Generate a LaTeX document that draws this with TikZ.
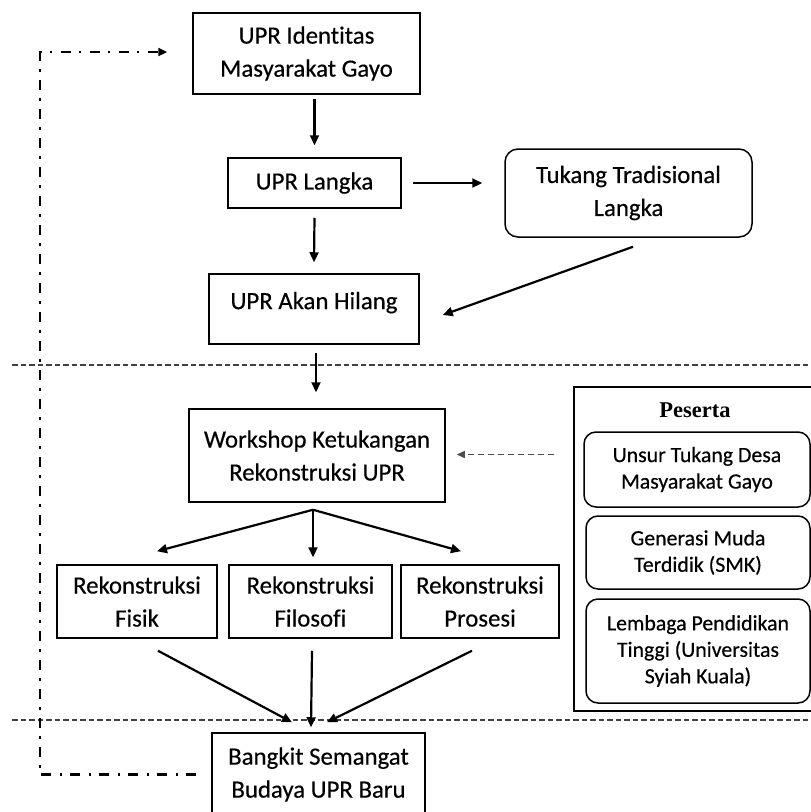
\documentclass[tikz,border=0pt]{standalone}
\usepackage{fontspec}
\newfontfamily\mainf{Carlito}[Ligatures=NoCommon,FakeBold=0.4]
\newfontfamily\titf{Liberation Serif}
\usetikzlibrary{arrows.meta,calc}
\begin{document}
\begin{tikzpicture}[x=1pt,y=-1pt,
  box/.style={draw, line width=1.5pt, align=center, inner sep=0pt, text=black,
    font=\mainf\fontsize{24.8}{33}\selectfont},
  rbox/.style={box, rounded corners=13pt},
  pbox/.style={draw, line width=1.5pt, rounded corners=12pt, align=center, inner sep=0pt,
    text=black, font=\mainf\fontsize{21.8}{26.5}\selectfont},
  arr/.style={line width=2.2pt, -{Triangle[length=10pt,width=9pt]}},
  darr/.style={line width=1.4pt, black!70, dash pattern=on 6pt off 4pt, -{Triangle[length=8pt,width=7pt]}},
  sepline/.style={line width=1.4pt, black!75, dash pattern=on 5.5pt off 3pt},
  loopline/.style={line width=2.4pt, dash pattern=on 10pt off 8pt on 2.5pt off 8.5pt, -{Triangle[length=9pt,width=8pt]}}
]
\useasboundingbox (0,0) rectangle (811,812);

% main boxes
\node[box, minimum width=227pt, minimum height=81pt] (identitas) at (306.5,53.5) {UPR Identitas\\Masyarakat Gayo};
\node[box, minimum width=173pt, minimum height=50pt] (langka) at (314.5,183) {UPR Langka};
\node[rbox, minimum width=247pt, minimum height=88pt] (tukang) at (628.5,193) {Tukang Tradisional\\Langka};
\node[box, minimum width=210pt, minimum height=70pt, text depth=17pt] (hilang) at (314,309) {UPR Akan Hilang};
\node[box, minimum width=256pt, minimum height=93pt] (workshop) at (317,455.5) {Workshop Ketukangan\\Rekonstruksi UPR};
\node[box, minimum width=160pt, minimum height=73pt] (fisik) at (137,601.5) {Rekonstruksi\\Fisik};
\node[box, minimum width=163pt, minimum height=73pt] (filosofi) at (310.5,601.5) {Rekonstruksi\\Filosofi};
\node[box, minimum width=158pt, minimum height=73pt] (prosesi) at (480,601.5) {Rekonstruksi\\Prosesi};
\node[box, minimum width=213pt, minimum height=83pt] (bangkit) at (318.5,774.5) {Bangkit Semangat\\Budaya UPR Baru};

% peserta group
\node[draw, line width=1.5pt, minimum width=242pt, minimum height=324pt, inner sep=0pt] (peserta) at (695,549) {};
\node[font=\titf\bfseries\fontsize{22.5}{22.5}\selectfont, text=black, inner sep=0pt] (pestitle) at (695,410) {Peserta};
\node[pbox, minimum width=226pt, minimum height=75pt] (p1) at (697,469.5) {Unsur Tukang Desa\\Masyarakat Gayo};
\node[pbox, minimum width=224pt, minimum height=73pt] (p2) at (698,552.5) {Generasi Muda\\Terdidik (SMK)};
\node[pbox, minimum width=224pt, minimum height=104pt] (p3) at (698,651) {Lembaga Pendidikan\\Tinggi (Universitas\\Syiah Kuala)};

% separator lines
\coordinate (s1a) at (12,365);
\coordinate (s1b) at (811,365);
\coordinate (s2a) at (12,720);
\coordinate (s2b) at (811,720);
\draw[sepline] (s1a) -- (s1b);
\draw[sepline] (s2a) -- (s2b);

% arrows
\draw[arr] ($(identitas.south -| langka.north)+(0,4)$) -- ($(langka.north)+(0,-12)$);
\draw[arr] ($(langka.east)+(11,0)$) -- ($(tukang.west |- langka.east)+(-22,0)$);
\draw[arr] ($(langka.south)+(0,9)$) -- ($(hilang.north)+(0,-11)$);
\draw[arr] ($(tukang.south)+(4.5,9)$) -- ($(hilang.east)+(23,6)$);
\draw[arr] ($(hilang.south)+(2,8)$) -- ($(hilang.south |- workshop.north)+(2,-16)$);
\draw[darr] ($(peserta.west |- workshop.east)+(-19,-1)$) -- ($(workshop.east)+(11,-1)$);

\coordinate (fan) at ($(workshop.south)+(-4,7)$);
\draw[arr] (fan) -- ($(fisik.north)+(20,-13)$);
\draw[arr] (fan) -- ($(filosofi.north)+(2.5,-7)$);
\draw[arr] (fan) -- ($(prosesi.north)+(-19,-13)$);

\draw[arr] ($(fisik.south)+(21,12)$) -- ($(bangkit.north)+(-26.5,-10)$);
\draw[arr] ($(filosofi.south)+(1.5,12)$) -- ($(bangkit.north)+(-7.5,-5)$);
\draw[arr] ($(prosesi.south)+(-8,12)$) -- ($(bangkit.north)+(8.5,-10)$);

% feedback loop
\coordinate (loopS) at ($(bangkit.west)+(-15,0)$);
\coordinate (loopE) at ($(identitas.west)+(-25,-1.5)$);
\coordinate (loopC) at ($(loopE)+(-127,0)$);
\draw[loopline] (loopS) -| (loopC) -- (loopE);
\end{tikzpicture}
\end{document}
